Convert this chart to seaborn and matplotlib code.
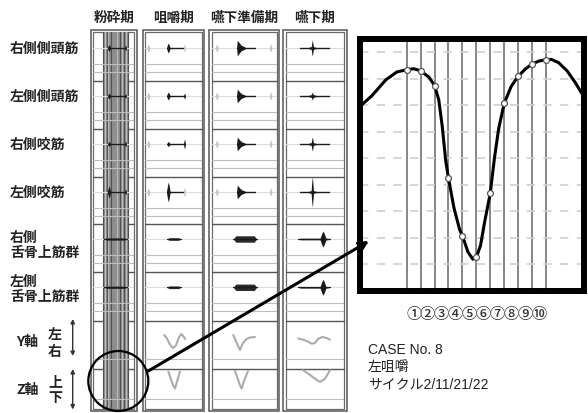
import numpy as np
import pandas as pd
import matplotlib
matplotlib.use("Agg")
import matplotlib.pyplot as plt
from matplotlib.patches import Rectangle, Circle
from matplotlib.transforms import blended_transform_factory
import seaborn as sns

sns.set_theme(style="white")
plt.rcParams["font.family"] = ["Noto Sans CJK JP", "DejaVu Sans"]

# ------------------------------------------------------------------ data
phases = ["粉砕期", "咀嚼期", "嚥下準備期", "嚥下期"]
muscles = ["右側側頭筋", "左側側頭筋", "右側咬筋", "左側咬筋",
           "右側\n舌骨上筋群", "左側\n舌骨上筋群"]

# jaw muscles (rows 0-3): main burst per phase, amplitude per muscle
main_time = [18.3, 25.6, 28.0, 29.0]
main_amp = [[3.5, 3.0, 2.5, 6.0],
            [5.0, 4.0, 2.5, 10.0],
            [8.0, 7.0, 7.0, 7.0],
            [8.0, 4.0, 7.0, 15.0]]
tail_start = [18.3, 25.6, 28.0, 16.7]
tail_end = [34.8, 41.8, 45.7, 45.7]
end_amp = [[3.0, 2.5, 3.0, 3.0],
           [4.0, 3.0, 5.0, 5.0],
           [0.0, 0.0, 0.0, 0.0],
           [0.0, 0.0, 0.0, 0.0]]
end_faint = [[False] * 4, [True, False, False, True], [False] * 4, [False] * 4]
# faint activity of neighbouring cycles
ghost_time = [[], [5.6], [7.4, 61.4], []]
ghost_amp = [0.0, 4.0, 4.0, 0.0]

# suprahyoid muscles (rows 4-5)
hyoid_start = [13.3, 24.0, 24.0, 14.7]
hyoid_end = [36.3, 38.3, 47.4, 46.7]
hyoid_amp = [1.1, 1.3, 3.2, 0.8]
hyoid_peak_time = [0.0, 0.0, 0.0, 39.7]
hyoid_peak_amp = [0.0, 0.0, 0.0, 8.0]

# cycle markers inside the grinding column
band_marks = [12.6, 14.3, 16.3, 17.6, 20.3, 26.3, 29.0, 31.6, 33.6, 35.6, 37.0]

# incisal point trajectories (left-right: Y, up-down: Z)
traj_y_t = [[], [21.5, 24.0, 27.0, 30.0, 33.0, 36.0, 38.5, 40.5, 42.5],
            [24.0, 27.4, 30.7, 33.7, 37.4, 40.7, 45.7],
            [15.0, 20.0, 24.5, 28.4, 31.7, 35.0, 39.0, 43.4, 46.7]]
traj_y_v = [[], [0, -3, -9, -13, -11, -3, 1, -1, -4],
            [0, -8, -15, -8, -4, -2.5, -2],
            [-3.5, -4.7, -6.5, -8.7, -8, -3.7, -2, -3, -4.7]]
traj_z_t = [[], [25.6, 28.0, 30.5, 32.3, 34.3, 37.3],
            [25.7, 28.7, 31.0, 32.4, 34.5, 38.7],
            [20.0, 25.0, 31.7, 36.7, 41.7, 46.7]]
traj_z_v = [[], [0, -7, -14, -17, -10, 0],
            [0.5, -8, -14.5, -17, -10, 0.5],
            [1.2, -2.2, -7.2, -10.5, -7.2, 1.2]]

# enlarged Z trajectory of one grinding cycle
cycle_t = [-2.39, -1.5, -0.5, 0.3, 1.0, 1.5, 2.0, 2.6, 3.0, 3.3, 3.55, 3.8, 4.0,
           4.4, 4.8, 5.0, 5.4, 5.75, 6.0, 6.3, 6.6, 7.0, 7.3, 7.6, 8.0, 8.5,
           9.0, 9.5, 10.0, 10.5, 11.0, 11.4, 11.9, 12.5, 13.1, 13.73]
cycle_v = [5.93, 6.35, 6.95, 7.25, 7.33, 7.37, 7.29, 7.05, 6.73, 6.2, 5.2, 3.9, 3.23,
           2.1, 1.3, 1.07, 0.45, 0.18, 0.25, 0.7, 1.6, 2.67, 4.0, 5.1, 6.06, 6.7,
           7.08, 7.35, 7.55, 7.66, 7.71, 7.72, 7.6, 7.3, 6.85, 6.3]
marker_t = [1, 2, 3, 4, 5, 6, 7, 8, 9, 10, 11]
marker_v = [7.33, 7.29, 6.73, 3.23, 1.07, 0.25, 2.67, 6.06, 7.08, 7.55, 7.71]
interval_labels = ["①", "②", "③", "④", "⑤", "⑥", "⑦", "⑧", "⑨", "⑩"]

case_lines = ["CASE No. 8", "左咀嚼", "サイクル2/11/21/22"]

# ------------------------------------------------------------------ layout
W, H = 588, 414
col_x = [(90.7, 136.7), (142.7, 204.3), (209.3, 279.3), (283.3, 346.7)]
row_tops = [33.3, 82.3, 130.0, 178.3, 225.0, 273.3, 321.7, 370.0]
frame_top, frame_bot = 30.5, 412.3
inner_bot = 409.8
row_bots = row_tops[1:] + [inner_bot]
base_off = [15.7, 14.7, 15.0, 14.7, 15.0, 15.0, 14.3, 2.5]
guide_off = [[-16, -24]] * 6 + [[-24.3], [-27.2]]

SPINDLE_X = np.array([-1.0, -0.4, 0.0, 0.4, 1.0])
SPINDLE_Y = np.array([0.08, 0.7, 1.0, 0.7, 0.08])
ONSET_X = np.array([-0.25, 0.0, 0.5, 1.5, 3.0])
ONSET_Y = np.array([0.1, 1.0, 0.75, 0.35, 0.12])
DARK, FAINT, TRACE = "#1a1a1a", "#c4c4c4", "#ababab"
TXT = "#222222"
BAND = "#8f8f8f"


def box(x0, y0, x1, y1):
    return [x0 / W, 1 - y1 / H, (x1 - x0) / W, (y1 - y0) / H]


def burst(ax, t, amp, half_w, color, shape="spindle"):
    px, py = (SPINDLE_X, SPINDLE_Y) if shape == "spindle" else (ONSET_X, ONSET_Y)
    tt = t + half_w * px
    env = amp * py
    ax.fill_between(tt, -env, env, color=color, lw=0, zorder=3)


fig = plt.figure(figsize=(W / 100, H / 100), dpi=100)
fig.patch.set_facecolor("white")

bg = fig.add_axes([0, 0, 1, 1], zorder=0)
bg.set_xlim(0, W)
bg.set_ylim(H, 0)
bg.axis("off")

# grinding column: shaded band of cycle markers
x0, x1 = col_x[0]
band = fig.add_axes(box(x0, row_tops[0], x1, inner_bot), zorder=1)
band.set_xlim(0, x1 - x0)
band.set_ylim(0, 1)
band.fill_between([11.8, 37.6], [0, 0], [1, 1], color=BAND, lw=0, zorder=1)
for i, t in enumerate(band_marks):
    band.plot([t, t], [0, 1], color="#505050" if i % 2 == 0 else "#c6c6c6",
              lw=0.8 if i % 2 == 0 else 0.6, zorder=2)
band.axis("off")

# column frames and row separators
for x0, x1 in col_x:
    bg.add_patch(Rectangle((x0, frame_top), x1 - x0, frame_bot - frame_top,
                           fill=False, ec="#555555", lw=1.1, zorder=2))
    bg.add_patch(Rectangle((x0 + 2.4, row_tops[0]), x1 - x0 - 4.8,
                           inner_bot - row_tops[0], fill=False, ec="#6a6a6a", lw=0.9,
                           zorder=2))
    for y in row_tops[1:]:
        bg.plot([x0 + 2.4, x1 - 2.4], [y, y], color="#555555", lw=1.0, zorder=2)

# cells
for c, (x0, x1) in enumerate(col_x):
    width = x1 - x0
    for r in range(8):
        top, bot = row_tops[r], row_bots[r]
        base = top + base_off[r]
        ax = fig.add_axes(box(x0 + 2.4, top, x1 - 2.4, bot), zorder=2)
        ax.set_xlim(2.4, width - 2.4)
        ax.set_ylim(-(bot - base), base - top)
        for g in guide_off[r]:
            ax.axhline(g, color="#bdbdbd", lw=0.8)
        if r < 6:
            ax.axhline(0, color="#dcdcdc", lw=0.8)
        if r < 4:
            for gt in ghost_time[c]:
                burst(ax, gt, ghost_amp[c], 1.4, FAINT)
            ax.plot([tail_start[c], tail_end[c]], [0, 0], color=DARK, lw=1.0, zorder=3)
            if c == 3:
                burst(ax, main_time[c], 1.5, 5.5, DARK)
            burst(ax, main_time[c], main_amp[c][r], [1.6, 1.8, 2.6, 1.2][c], DARK,
                  "onset" if c == 2 else "spindle")
            if end_amp[c][r] > 0:
                col = FAINT if end_faint[c][r] else DARK
                burst(ax, tail_end[c], end_amp[c][r], 1.0, col)
        elif r < 6:
            ts, te, a = hyoid_start[c], hyoid_end[c], hyoid_amp[c]
            ax.fill_between([ts, ts + 2.5, te - 2.5, te], [0, -a, -a, 0], [0, a, a, 0],
                            color="#2a2a2a", lw=0, zorder=3)
            ax.plot([ts, te], [0, 0], color=DARK, lw=0.9, zorder=3)
            if hyoid_peak_amp[c] > 0:
                burst(ax, hyoid_peak_time[c], hyoid_peak_amp[c], 3.0, DARK)
        else:
            tt = traj_y_t[c] if r == 6 else traj_z_t[c]
            vv = traj_y_v[c] if r == 6 else traj_z_v[c]
            if tt:
                sns.lineplot(x=tt, y=vv, ax=ax, color=TRACE, lw=1.5, sort=False)
        ax.axis("off")

# headers and row labels
for (x0, x1), name in zip(col_x, phases):
    bg.text((x0 + x1) / 2, 18, name, ha="center", va="center", fontsize=9.8,
            fontweight="bold", color=TXT)
label_y = [49, 97, 145, 192.5, 245.5, 289.7]
for y, name in zip(label_y, muscles):
    bg.text(10, y, name, ha="left", va="center", fontsize=10, fontweight="bold",
            color=TXT, linespacing=1.1)
for lab, y, a, b, ya, yb, y0, y1 in [("Y軸", 342, "左", "右", 335, 351.7, 320, 357),
                                     ("Z軸", 390, "上", "下", 381.7, 398, 370, 410.5)]:
    bg.text(16, y, lab, ha="left", va="center", fontsize=10, fontweight="bold",
            color=TXT)
    bg.text(55, ya, a, ha="center", va="center", fontsize=10, fontweight="bold",
            color=TXT)
    bg.text(55, yb, b, ha="center", va="center", fontsize=10, fontweight="bold",
            color=TXT)
    bg.annotate("", xy=(72.7, y0), xytext=(72.7, y1),
                arrowprops=dict(arrowstyle="<|-|>", lw=1.0, color="#333333",
                                mutation_scale=6, shrinkA=0, shrinkB=0))

# enlarged cycle
big = fig.add_axes(box(359.5, 39.5, 584, 291.5), zorder=3)
big.set_xlim(-2.39, 13.73)
big.set_ylim(-1.0, 8.51)
for t in marker_t:
    big.axvline(t, color="#858585", lw=1.4, zorder=1)
for g in range(9):
    big.axhline(g, color="#d0d0d0", lw=1.2, dashes=(5, 5), zorder=1)
sns.lineplot(x=cycle_t, y=cycle_v, ax=big, color="black", lw=2.2, sort=False, zorder=3)
sns.scatterplot(x=marker_t, y=marker_v, ax=big, s=18, color="white",
                edgecolor="#555555", linewidth=0.9, zorder=4)
big.set_xticks([])
big.set_yticks([])
big.set_xlabel("")
big.set_ylabel("")
for sp in big.spines.values():
    sp.set_visible(True)
    sp.set_color("black")
    sp.set_linewidth(4.3)

trans = blended_transform_factory(big.transData, fig.transFigure)
for i, lab in enumerate(interval_labels):
    fig.text(marker_t[i] + 0.5, 1 - 315 / H, lab, transform=trans, ha="center",
             va="center", fontsize=11, fontweight="medium", color="#333333")

for i, line in enumerate(case_lines):
    fig.text(368 / W, 1 - (350 + 16.9 * i) / H, line, ha="left", va="center",
             fontsize=10, color=TXT, family=["Liberation Sans", "Noto Sans CJK JP"])

# magnifier circle and leader line
fg = fig.add_axes([0, 0, 1, 1], zorder=5)
fg.set_xlim(0, W)
fg.set_ylim(H, 0)
fg.axis("off")
fg.add_patch(Circle((118.3, 382), 30, fill=False, ec="black", lw=1.6))
fg.annotate("", xy=(369, 242), xytext=(148.3, 372),
            arrowprops=dict(arrowstyle="->", lw=2.2, color="black",
                            mutation_scale=14, shrinkA=0, shrinkB=0))

fig.savefig("out.png", dpi=100, facecolor="white")
